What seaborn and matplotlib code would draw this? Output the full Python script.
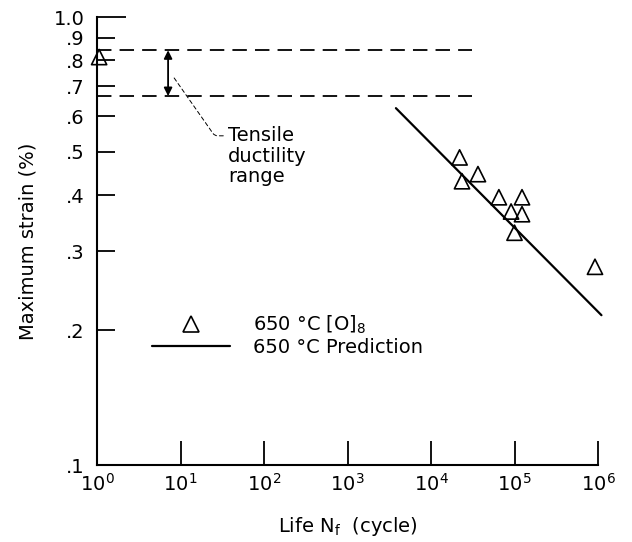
import numpy as np
import pandas as pd
import matplotlib
matplotlib.use('Agg')
import matplotlib.pyplot as plt
import seaborn as sns
from matplotlib.lines import Line2D
from matplotlib.ticker import FixedLocator, FixedFormatter, NullLocator

sns.set_style('white')
plt.rcParams['font.family'] = ['DejaVu Sans']
plt.rcParams['mathtext.default'] = 'regular'
plt.rcParams['text.color'] = 'black'
plt.rcParams['axes.labelcolor'] = 'black'

# Test data (650 C [O]8)
life_tests = [1.06, 2.2e4, 2.35e4, 3.65e4, 6.5e4, 1.23e5, 9.1e4, 1.23e5, 1.0e5, 9.2e5]
strain_tests = [0.814, 0.486, 0.43, 0.446, 0.396, 0.396, 0.368, 0.363, 0.330, 0.277]

# Prediction line
life_pred = [3.8e3, 1.1e6]
strain_pred = [0.626, 0.216]

# Tensile ductility range
ductility_range = [0.843, 0.666]
dash_end = 3.1e4
arrow_life = 7.1

y_ticks = [0.1, 0.2, 0.3, 0.4, 0.5, 0.6, 0.7, 0.8, 0.9]
y_labels = ['.1', '.2', '.3', '.4', '.5', '.6', '.7', '.8', '.9']
x_ticks = [1, 10, 100, 1e3, 1e4, 1e5, 1e6]
x_labels = ['$10^{%d}$' % i for i in range(7)]

tests = pd.DataFrame({'life': life_tests, 'strain': strain_tests})
pred = pd.DataFrame({'life': life_pred, 'strain': strain_pred})

fig = plt.figure(figsize=(6.32, 5.42), dpi=100)
ax = fig.add_axes([0.1535, 0.142, 0.7927, 0.8266])

ax.set_xscale('log')
ax.set_yscale('log')

sns.lineplot(data=pred, x='life', y='strain', color='black', linewidth=1.6, ax=ax)
for ln in ax.lines:
    ln.set_clip_on(False)
sns.scatterplot(data=tests, x='life', y='strain', marker='^', s=120,
                facecolor='none', edgecolor='black', linewidth=1.2, ax=ax, clip_on=False, zorder=5)

# dashed ductility lines
for v in ductility_range:
    ax.plot([1, dash_end], [v, v], color='black', linestyle=(0, (8, 4.5)), linewidth=1.3, clip_on=False)

ax.annotate('', xy=(arrow_life, ductility_range[0]), xytext=(arrow_life, ductility_range[1]),
            arrowprops=dict(arrowstyle='<|-|>', color='black', lw=1.3, mutation_scale=12,
                            shrinkA=0, shrinkB=0))
ax.annotate('Tensile\nductility\nrange', xy=(8.1, 0.738), xytext=(37, 0.489),
            fontsize=14, ha='left', va='center', linespacing=1.1, color='black',
            arrowprops=dict(arrowstyle='-', color='black', lw=0.7, linestyle=(0, (4, 3)),
                            shrinkA=1, shrinkB=0, relpos=(0, 0.84),
                            connectionstyle='angle,angleA=0,angleB=-55,rad=3'))

ax.set_xlim(1, 1e6)
ax.set_ylim(0.1, 1.0)

ax.xaxis.set_major_locator(FixedLocator(x_ticks))
ax.xaxis.set_major_formatter(FixedFormatter(x_labels))
ax.xaxis.set_minor_locator(NullLocator())
ax.yaxis.set_major_locator(FixedLocator(y_ticks))
ax.yaxis.set_major_formatter(FixedFormatter(y_labels))
ax.yaxis.set_minor_locator(FixedLocator([1.0]))
ax.yaxis.set_minor_formatter(FixedFormatter(['1.0']))

ax.tick_params(axis='x', which='major', direction='in', length=17, width=1.3,
               labelsize=14, pad=6, colors='black', bottom=True)
ax.tick_params(axis='y', which='major', direction='in', length=13, width=1.3,
               labelsize=14, pad=9, colors='black', left=True)
ax.tick_params(axis='y', which='minor', direction='in', length=21, width=1.3,
               labelsize=14, pad=9, colors='black', left=True)

for side in ['top', 'right']:
    ax.spines[side].set_visible(False)
for side in ['left', 'bottom']:
    ax.spines[side].set_color('black')
    ax.spines[side].set_linewidth(1.5)

ax.set_xlabel('Life N$_f$  (cycle)', fontsize=14)
ax.set_ylabel('Maximum strain (%)', fontsize=14)
ax.xaxis.set_label_coords(0.501, -0.112)
ax.yaxis.set_label_coords(-0.118, 0.5)

handles = [Line2D([], [], marker='^', linestyle='none', markersize=11,
                  markerfacecolor='none', markeredgecolor='black', markeredgewidth=1.2),
           Line2D([], [], color='black', linewidth=1.6)]
ax.legend(handles, ['650 °C [O]$_8$', '650 °C Prediction'], loc='center left',
          bbox_to_anchor=(0.11, 0.29), frameon=False, fontsize=14, handlelength=4.0,
          handletextpad=1.2, labelspacing=0.1, borderpad=0, borderaxespad=0,
          labelcolor='black')

fig.savefig('out.png', dpi=100)
